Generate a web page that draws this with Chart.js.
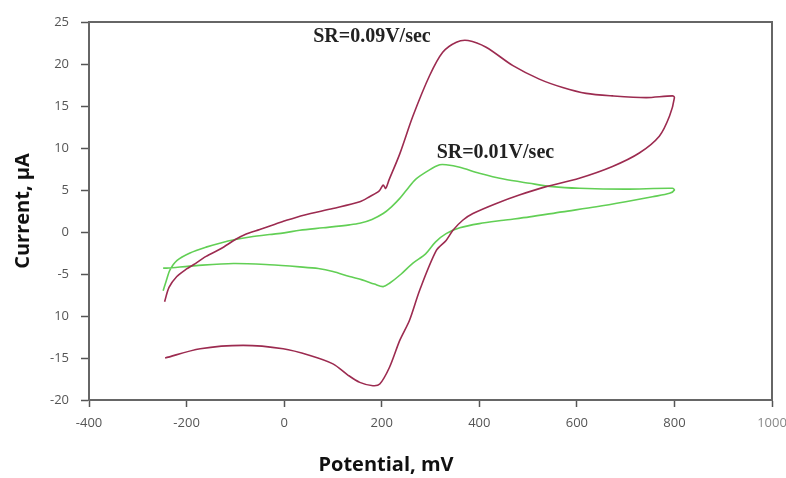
<!DOCTYPE html>
<html>
<head>
<meta charset="utf-8">
<script src="https://cdn.jsdelivr.net/npm/chart.js@4"></script>
<style>
  html, body { margin:0; padding:0; background:#fff; overflow:hidden; }
</style>
</head>
<body>
<canvas id="cv" width="786" height="478"></canvas>
<script>
// potential (mV) / current (uA), in scan order
const fastX = [-245,-236,-220,-200,-186,-160,-130,-100,-80,-50,-20,0,40,100,155,175,195,203,208,215,237,264,298,325,353,377,414,469,523,571,619,673,742,796,800,
  790,769,728,673,605,537,482,435,387,366,346,332,312,278,257,237,216,196,182,155,130,100,53,-2,-84,-172,-244];
const fastY = [-8.3,-6.6,-5.3,-4.4,-3.9,-2.9,-2.0,-0.9,-0.3,0.3,0.9,1.3,2.0,2.8,3.6,4.2,4.9,5.6,5.2,6.2,9.3,13.8,18.6,21.4,22.6,22.8,22.0,19.8,18.2,17.2,16.5,16.2,16.0,16.2,16.0,
  13.8,11.4,9.4,7.8,6.4,5.4,4.4,3.4,2.2,1.4,0.2,-1.0,-2.2,-6.9,-10.5,-12.9,-16.1,-18.1,-18.3,-17.9,-17.0,-15.7,-14.7,-13.9,-13.5,-13.9,-15.0];

const slowX = [-248,-240,-234,-220,-193,-160,-130,-100,-70,-30,0,32,80,134,155,180,203,220,237,251,270,298,319,332,360,400,450,503,550,605,700,796,800,
  790,755,700,640,570,503,450,400,360,332,310,290,264,240,216,203,185,160,134,100,70,32,-30,-104,-180,-241,-248];
const slowY = [-7.0,-5.5,-4.5,-3.4,-2.5,-1.8,-1.3,-0.9,-0.6,-0.3,-0.1,0.2,0.5,0.85,1.04,1.5,2.2,3.0,4.0,5.0,6.3,7.4,8.0,8.0,7.7,7.0,6.3,5.8,5.4,5.2,5.1,5.2,5.0,
  4.6,4.2,3.6,3.0,2.4,1.8,1.4,1.0,0.5,-0.2,-1.2,-2.6,-3.7,-5.0,-6.1,-6.5,-6.2,-5.7,-5.3,-4.7,-4.35,-4.15,-3.9,-3.75,-4.0,-4.3,-4.3];

const seriesNames = ['SR=0.09V/sec', 'SR=0.01V/sec'];
// label anchors in data units (mV, uA)
const labelX = [180, 433];
const labelY = [23.2, 9.45];

const pts = (xs, ys) => xs.map((x, i) => ({ x, y: ys[i] }));

const frame = {
  id: 'frame',
  afterDraw(c) {
    const { ctx, chartArea:a, scales } = c;
    ctx.save();
    ctx.strokeStyle = '#666'; ctx.lineWidth = 2;
    ctx.beginPath();
    ctx.moveTo(a.left, a.top); ctx.lineTo(a.right, a.top); ctx.lineTo(a.right, a.bottom);
    ctx.stroke();
    ctx.fillStyle = '#222';
    ctx.font = 'bold 20px "Liberation Serif", serif';
    ctx.textAlign = 'center'; ctx.textBaseline = 'middle';
    seriesNames.forEach((t, i) => {
      ctx.fillText(t, scales.x.getPixelForValue(labelX[i]), scales.y.getPixelForValue(labelY[i]));
    });
    ctx.restore();
  }
};

const tickFont = { family:"'Open Sans', sans-serif", size:13 };

new Chart(document.getElementById('cv'), {
  type:'scatter',
  data:{ datasets:[
    { label:seriesNames[0], data:pts(fastX, fastY), showLine:true, borderColor:'#9c2b50', borderWidth:1.6, pointRadius:0, tension:0.3 },
    { label:seriesNames[1], data:pts(slowX, slowY), showLine:true, borderColor:'#62cf55', borderWidth:1.6, pointRadius:0, tension:0.3 }
  ]},
  options:{ responsive:false, animation:false, devicePixelRatio:1,
    layout:{ padding:{ top:22, right:14, left:0, bottom:0 }},
    plugins:{ legend:{ display:false }, tooltip:{ enabled:false },
      title:{ display:true, position:'bottom', text:'Potential, mV', color:'#111',
        font:{ family:"'Open Sans', sans-serif", size:20, weight:'bold' }, padding:{ top:0, bottom:1 }}},
    scales:{
      x:{ type:'linear', min:-400, max:1000,
        ticks:{ stepSize:200, padding:8, font:tickFont, maxRotation:0, callback:v => String(v),
          color:c => c.tick && c.tick.value === 1000 ? '#888' : '#555' },
        grid:{ drawOnChartArea:false, tickLength:7, tickColor:'#555', tickWidth:1.5 },
        border:{ color:'#666', width:2 },
        afterFit(s){ s.height = 53; s.paddingLeft = 0; s.paddingRight = 0; } },
      y:{ min:-20, max:25,
        ticks:{ stepSize:5, padding:12, font:tickFont, color:'#555', callback:v => v === -10 ? '10' : String(v) },
        grid:{ drawOnChartArea:false, tickLength:8, tickColor:'#555', tickWidth:1.5 },
        border:{ color:'#666', width:2 },
        title:{ display:true, text:'Current, μA', color:'#111',
          font:{ family:"'Open Sans', sans-serif", size:20, weight:'bold' }, padding:{ top:11, bottom:0 }},
        afterFit(s){ s.width = 89; s.paddingTop = 0; s.paddingBottom = 0; } }
    }
  },
  plugins:[frame]
});
</script>
</body>
</html>
